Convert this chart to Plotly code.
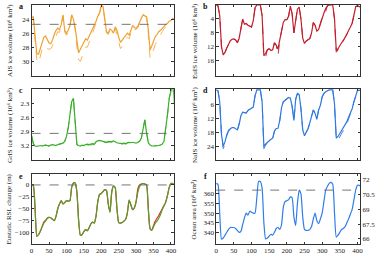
import plotly.graph_objects as go

# time (kyr)
t = list(range(0, 415, 5))

ais = [23.8, 23.7, 26.5, 28.9, 29.0, 28.2, 27.3, 26.6, 26.4, 27.0,
       27.4, 27.5, 27.0, 26.2, 25.6, 25.3, 25.5, 24.8, 23.4, 25.6,
       26.0, 25.6, 25.0, 23.4, 24.0, 25.3, 27.5, 28.8, 28.3, 27.8,
       27.2, 26.8, 27.0, 26.5, 26.0, 25.3, 24.8, 24.3, 23.6, 23.1,
       22.1, 22.2, 24.0, 25.8, 26.0, 25.4, 25.6, 26.0, 25.1, 25.6,
       26.6, 27.3, 27.0, 26.6, 26.2, 26.0, 26.3, 25.5, 24.9, 25.2,
       25.3, 25.0, 24.3, 23.9, 23.4, 23.5, 23.7, 25.5, 28.4, 27.8,
       27.0, 26.5, 26.2, 25.8, 25.6, 25.3, 25.0, 24.8, 24.6, 24.3,
       24.2, 23.9, 24.0]
ais_alt = [23.8, 23.7, 27.0, 29.8, 30.3, 29.3, 28.3, 27.8, 27.8, 28.2,
           28.3, 28.2, 27.8, 27.0, 26.3, 25.8, 25.9, 25.1, 23.6, 25.9,
           26.3, 25.9, 25.2, 23.4, 24.0, 25.5, 28.0, 29.8, 30.0, 29.3,
           28.6, 28.0, 28.0, 27.4, 26.8, 26.0, 25.3, 24.6, 23.8, 23.2,
           22.1, 22.2, 24.1, 26.0, 26.2, 25.6, 25.7, 26.1, 25.3, 26.2,
           27.4, 28.2, 27.9, 27.4, 26.9, 26.6, 26.8, 25.9, 25.2, 25.5,
           25.5, 25.2, 24.4, 23.9, 23.4, 23.5, 23.7, 26.0, 29.6, 29.2,
           28.3, 27.6, 27.1, 26.6, 26.2, 25.8, 25.4, 25.1, 24.8, 24.4,
           24.2, 23.9, 24.0]

euis = [0, 0.2, 3, 12, 14.3, 13.5, 12.3, 11, 10.2, 9.8,
        9.7, 10, 10.8, 9.5, 7, 4, 5.5, 5.3, 5.8, 6.0,
        6.3, 4.5, 0.8, 0, 0, 0, 3, 14.5, 13.8, 12.8,
        12.5, 13, 12.8, 10.8, 11.5, 12.6, 10, 7.5, 5, 4.2,
        4.2, 3.2, 0.3, 2.5, 8, 4.5, 1.2, 0.6, 4, 9.5,
        11, 10.3, 10, 9.6, 8, 5, 5.8, 7.5, 7, 5.3,
        3.5, 2.3, 1, 0.2, 0, 0, 0, 4, 13, 12.5,
        11.5, 10.8, 10.2, 9.3, 8.5, 7.3, 6.3, 5.2, 3, 0.5,
        0.2, 0.5, 0.5]
euis_alt = [0, 0.2, 3, 12, 14.3, 13.5, 12.3, 11, 10.2, 9.8,
            9.7, 10, 10.8, 9.5, 7, 4, 5.5, 5.3, 5.8, 6.0,
            6.3, 4.5, 0.8, 0, 0, 0, 3, 15.2, 14.8, 12.8,
            12.5, 13, 12.8, 10.8, 11.5, 14.5, 10, 7.5, 5, 4.2,
            4.2, 3.2, 0.3, 2.5, 8, 4.5, 1.2, 0.6, 4, 9.5,
            11, 10.3, 10, 9.6, 8, 5, 5.8, 7.5, 7, 5.3,
            3.5, 3.5, 2.0, 0.2, 0, 0, 0, 4, 13.5, 12.8,
            11.5, 10.8, 10.2, 9.3, 8.5, 7.3, 6.3, 5.2, 3, 0.5,
            0.2, 0.5, 0.5]

gris = [2.98, 3.15, 3.2, 3.21, 3.2, 3.19, 3.2, 3.19, 3.18, 3.19,
        3.2, 3.18, 3.17, 3.18, 3.19, 3.17, 3.16, 3.15, 3.14, 3.1,
        3.0, 2.82, 2.52, 2.25, 2.18, 2.7, 3.17, 3.19, 3.2, 3.18,
        3.19, 3.17, 3.16, 3.17, 3.16, 3.15, 3.16, 3.11, 3.09, 3.08,
        3.09, 3.1, 3.11, 3.12, 3.1, 3.1, 3.11, 3.09, 3.12, 3.13,
        3.14, 3.15, 3.15, 3.14, 3.15, 3.13, 3.12, 3.13, 3.12, 3.13,
        3.14, 3.12, 3.1, 3.03, 2.82, 2.64, 2.92, 3.13, 3.18, 3.2,
        3.2, 3.2, 3.2, 3.19, 3.18, 3.16, 3.1, 2.85, 2.53, 2.18,
        1.98, 1.85, 2.3]
gris_alt = [2.98, 3.15, 3.2, 3.21, 3.2, 3.19, 3.2, 3.19, 3.18, 3.19,
            3.2, 3.18, 3.17, 3.18, 3.19, 3.17, 3.16, 3.15, 3.14, 3.1,
            3.0, 2.82, 2.52, 2.25, 2.18, 2.7, 3.17, 3.2, 3.21, 3.2,
            3.2, 3.19, 3.18, 3.18, 3.17, 3.17, 3.17, 3.13, 3.11, 3.1,
            3.11, 3.12, 3.12, 3.13, 3.12, 3.12, 3.12, 3.11, 3.13, 3.14,
            3.15, 3.16, 3.16, 3.15, 3.16, 3.14, 3.13, 3.14, 3.13, 3.14,
            3.15, 3.13, 3.1, 3.03, 2.82, 2.64, 2.92, 3.13, 3.18, 3.2,
            3.2, 3.2, 3.2, 3.19, 3.18, 3.16, 3.1, 2.85, 2.53, 2.18,
            1.98, 1.85, 2.3]

nais = [0, 0.3, 5, 19, 24, 22, 19, 17.2, 16.5, 16,
        16, 16.5, 17, 14.5, 11, 9.5, 9.5, 9.8, 8.7, 8.2,
        7.8, 7.3, 2.5, 0, 0, 0, 5, 24, 23, 22.2,
        21.8, 21, 20.5, 17.5, 16.4, 16.3, 13, 7.5, 5, 4.3,
        4, 3.2, 3.5, 7, 13, 4, 1.5, 2, 8, 17,
        19.5, 17.8, 16.5, 14, 11, 8.5, 10, 12.5, 8.5, 6.5,
        3, 1.5, 0.8, 0.2, 0, 0, 0, 6, 20.5, 19.8,
        18.5, 17.2, 15.8, 14.8, 13.5, 11.5, 10, 8, 5, 2.5,
        0.2, 0.2, 0.2]
nais_alt = [0, 0.3, 5, 19, 25, 23, 19.5, 17.6, 16.8, 16.3,
            16.2, 16.7, 17.2, 14.5, 11, 9.5, 9.5, 9.8, 8.7, 8.2,
            7.8, 7.3, 2.5, 0, 0, 0, 5, 25, 23.5, 22.5,
            21.8, 21, 20.5, 17.5, 16.4, 16.3, 13, 7.5, 5, 4.3,
            4, 3.2, 3.5, 7, 13, 4, 1.5, 2, 8, 17,
            19.5, 17.8, 16.5, 14, 11, 8.5, 10, 12.5, 8.5, 6.5,
            3, 1.5, 0.8, 0.2, 0, 0, 0, 6, 21.5, 21.3,
            20, 18.7, 17.2, 16, 14.5, 12.3, 10.5, 8.2, 5, 2.5,
            0.2, 0.2, 0.2]

rsl = [0, -2, -50, -108, -104, -97, -88, -80, -76, -70,
       -68, -69, -72, -75, -66, -50, -40, -33, -40, -37,
       -33, -34, -33, -5, 4, 4, -15, -75, -106, -104,
       -98, -94, -96, -90, -82, -78, -80, -65, -35, -20,
       -18, -14, -10, -12, -40, -57, -15, -2, -6, -50,
       -79, -80, -79, -76, -72, -58, -32, -42, -52, -48,
       -35, -15, -3, 2, 3, 2, 0, -50, -92, -95,
       -88, -80, -76, -70, -62, -52, -44, -36, -22, -5,
       3, 3, 0]
rsl_alt = [0, -2, -50, -108, -104, -97, -88, -78, -74, -70,
           -68, -69, -72, -75, -66, -50, -40, -33, -40, -37,
           -33, -34, -33, -5, 4, 4, -15, -75, -106, -104,
           -98, -94, -96, -90, -82, -78, -80, -65, -35, -20,
           -18, -14, -10, -12, -40, -57, -15, -2, -6, -50,
           -79, -80, -79, -76, -72, -58, -32, -42, -52, -48,
           -35, -8, 0, 2, 3, 2, 0, -50, -92, -95,
           -85, -76, -70, -64, -57, -50, -43, -36, -22, -5,
           3, 3, 0]

ocean = [365.5, 365, 350, 336.5, 337, 338.5, 340, 341.5, 342.5, 342.5,
         342.5, 342, 341, 340, 340.5, 344, 347.5, 350, 349, 351,
         350.5, 350, 350, 358, 366.5, 366.5, 363, 345, 336.5, 337,
         338, 339, 338.5, 340, 342, 342.5, 341.5, 344, 353, 356,
         356.5, 357, 358.5, 358, 348, 343.5, 355, 362, 360, 348,
         341.5, 341, 341, 341.5, 343, 347, 350, 346, 344.5, 347,
         350, 356, 362, 364, 365.5, 366, 365, 350, 337.5, 338.5,
         340, 341.5, 342, 343, 345, 347, 349.5, 352, 357, 362,
         364.5, 364.5, 363.5]
EARTH_AREA = 510.07  # 10^6 km^2, for percent axis
ocean_pct = [v / EARTH_AREA * 100 for v in ocean]

ref_ais = 24.75
ref_gris = 2.93
ref_rsl = 0
ref_ocean = 362

x_ticks = [0, 50, 100, 150, 200, 250, 300, 350, 400]

FONT = "Liberation Serif"
LW = 1.2

fig = go.Figure()

def add(y, color, ax, dash=None, width=LW, shape="linear"):
    fig.add_trace(go.Scatter(x=t, y=y, mode="lines",
                             line=dict(color=color, width=width, dash=dash,
                                       shape=shape, smoothing=0.5),
                             xaxis="x" + ax, yaxis="y" + ax,
                             showlegend=False, hoverinfo="skip"))

add(ais_alt, "#f3b45a", "", dash="dash", width=1.0)
add(ais, "#f0a030", "")
add(euis_alt, "#c8303a", "2", dash="dash", width=1.0)
add(euis, "#c21f2c", "2")
add(gris_alt, "#5cc04a", "3", dash="dash", width=1.0)
add(gris, "#3aae2a", "3")
add(nais_alt, "#4a88e0", "4", dash="dash", width=1.0)
add(nais, "#2f78e0", "4")
add(rsl_alt, "#e0302a", "5", shape="spline")
add(rsl, "#52a02a", "5", shape="spline")
add(ocean, "#2e7de8", "6", shape="spline")
fig.add_trace(go.Scatter(x=t, y=ocean_pct, mode="lines",
                         line=dict(color="rgba(0,0,0,0)", width=0),
                         xaxis="x6", yaxis="y7", showlegend=False,
                         hoverinfo="skip"))

W, H = 386, 259
colx = [(30 / W, 174 / W), (217 / W, 363 / W)]
rowy = [(1 - 76 / H, 1 - 5 / H), (1 - 160 / H, 1 - 89 / H), (1 - 244 / H, 1 - 174 / H)]

tickfont = dict(family=FONT, size=7, color="#222")
axcommon = dict(showline=True, linecolor="#333", linewidth=0.8, mirror="ticks",
                ticks="inside", ticklen=2.5, tickwidth=0.7, tickcolor="#333",
                showgrid=False, zeroline=False, tickfont=tickfont)

yspecs = [
    dict(range=[32.1, 22], tickvals=[24, 26, 28, 30]),
    dict(range=[20.3, 0], tickvals=[4, 8, 12, 16]),
    dict(range=[3.5, 1.98], tickvals=[2.3, 2.6, 2.9, 3.2]),
    dict(range=[29.8, -0.4], tickvals=[6, 12, 18, 24]),
    dict(range=[-124, 23], tickvals=[0, -25, -50, -75, -100]),
    dict(range=[333.9, 370.4], tickvals=[340, 345, 350, 355, 360]),
]

layout = dict(width=W, height=H, margin=dict(l=0, r=0, t=0, b=0),
              paper_bgcolor="white", plot_bgcolor="white",
              font=dict(family=FONT, size=7, color="#222"))

for i in range(6):
    r, c = divmod(i, 2)
    sfx = "" if i == 0 else str(i + 1)
    xa = dict(axcommon, domain=colx[c], range=[0, 408], tickvals=x_ticks,
              showticklabels=(r == 2), anchor="y" + sfx)
    ya = dict(axcommon, domain=rowy[r], anchor="x" + sfx, **yspecs[i])
    if i == 5:
        ya["mirror"] = True
    layout["xaxis" + sfx] = xa
    layout["yaxis" + sfx] = ya

lo, hi = yspecs[5]["range"]
layout["yaxis7"] = dict(axcommon, overlaying="y6", side="right", anchor="x6",
                        range=[lo / EARTH_AREA * 100, hi / EARTH_AREA * 100],
                        tickvals=[66, 67.5, 69, 70.5, 72], mirror=False)

fig.update_layout(**layout)

shapes = []
for ax, val in [("", ref_ais), ("3", ref_gris), ("5", ref_rsl), ("6", ref_ocean)]:
    shapes.append(dict(type="line", xref="x" + ax + " domain", yref="y" + ax,
                       x0=0, x1=1, y0=val, y1=val,
                       line=dict(color="#666", width=0.9, dash="dash")))
fig.update_layout(shapes=shapes)

titles = ["AIS ice volume (10\u2076 km\u00b3)",
          "EuIS ice volume (10\u2076 km\u00b3)",
          "GrIS ice volume (10\u2076 km\u00b3)",
          "NaIS ice volume (10\u2076 km\u00b3)",
          "Eustatic RSL change (m)",
          "Ocean area (10\u2076 km\u00b2)"]
letters = ["a", "b", "c", "d", "e", "f"]
ann = []
for i in range(6):
    r, c = divmod(i, 2)
    xt = 7.5 / W if c == 0 else 195 / W
    yc = (rowy[r][0] + rowy[r][1]) / 2
    ann.append(dict(text=titles[i], xref="paper", yref="paper", x=xt, y=yc,
                    textangle=-90, showarrow=False, xanchor="center", yanchor="middle",
                    font=dict(family=FONT, size=7, color="#222")))
    xl = 19 / W if c == 0 else 206 / W
    ann.append(dict(text="<b>" + letters[i] + "</b>", xref="paper", yref="paper",
                    x=xl, y=rowy[r][1] - 2 / H, showarrow=False,
                    xanchor="center", yanchor="middle",
                    font=dict(family=FONT, size=8, color="#111")))
fig.update_layout(annotations=ann)

fig.write_html("out.html")
